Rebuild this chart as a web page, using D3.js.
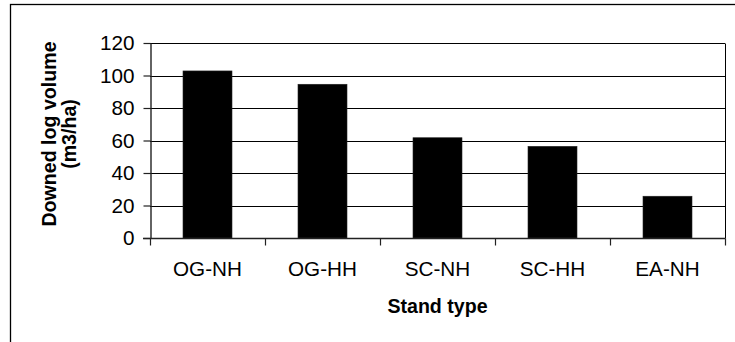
<!DOCTYPE html>
<html>
<head>
<meta charset="utf-8">
<script src="https://cdn.jsdelivr.net/npm/d3@7"></script>
<style>
  html, body { margin: 0; padding: 0; background: #fff; }
  svg { display: block; }
  text { font-family: "Liberation Sans", Arial, sans-serif; fill: #000; }
</style>
</head>
<body>
<svg id="chart" width="735" height="342"></svg>
<script>
// Downed log volume per stand type
const categories = ["OG-NH", "OG-HH", "SC-NH", "SC-HH", "EA-NH"];
const volumes = [102.8, 94.6, 61.7, 56.4, 25.7];
const yTicks = [0, 20, 40, 60, 80, 100, 120];
const yTitle = ["Downed log volume", "(m3/ha)"];
const xTitle = "Stand type";

const svg = d3.select("#chart");
const plot = { left: 150, right: 725, top: 43, bottom: 238 };
const tickFont = "20.7px";
const titleFont = "19.6px";

// Outer chart frame (runs past the right and bottom edges)
svg.append("rect")
  .attr("x", 10.5).attr("y", 4.5)
  .attr("width", 800).attr("height", 400)
  .attr("fill", "none").attr("stroke", "#000").attr("stroke-width", 1.3);

const x = d3.scaleBand()
  .domain(categories)
  .range([plot.left, plot.right])
  .paddingInner(0.574)
  .paddingOuter(0.287);

const y = d3.scaleLinear()
  .domain([0, 120])
  .range([plot.bottom, plot.top]);

// Slot boundaries used for the category tick marks
const slot = d3.scaleLinear()
  .domain([0, categories.length])
  .range([plot.left, plot.right]);

// Horizontal gridlines
svg.append("g")
  .selectAll("line")
  .data(yTicks.filter(t => t > 0))
  .join("line")
  .attr("x1", plot.left).attr("x2", plot.right)
  .attr("y1", d => Math.round(y(d)) + 0.5).attr("y2", d => Math.round(y(d)) + 0.5)
  .attr("stroke", "#000").attr("stroke-width", 1);

// Right border of plot area
svg.append("line")
  .attr("x1", plot.right + 0.5).attr("x2", plot.right + 0.5)
  .attr("y1", Math.round(y(120)) + 0.5).attr("y2", Math.round(y(0)) + 0.5)
  .attr("stroke", "#000").attr("stroke-width", 1);

// Bars
svg.append("g")
  .selectAll("rect")
  .data(categories.map((c, i) => ({ c, v: volumes[i] })))
  .join("rect")
  .attr("x", d => x(d.c))
  .attr("width", x.bandwidth())
  .attr("y", d => y(d.v))
  .attr("height", d => y(0) - y(d.v))
  .attr("fill", "#000")
  .attr("stroke", "#222").attr("stroke-width", 0.6);

// Y axis
const yAxis = svg.append("g")
  .attr("transform", `translate(${plot.left + 0.5},0)`)
  .call(d3.axisLeft(y).tickValues(yTicks).tickSize(7).tickPadding(9).tickSizeOuter(0));
yAxis.select(".domain").attr("stroke", "#222").attr("stroke-width", 1.4);
yAxis.selectAll(".tick line").attr("stroke", "#222").attr("stroke-width", 1.2);
yAxis.selectAll(".tick text")
  .style("font-family", "'Liberation Sans', Arial, sans-serif")
  .style("font-size", tickFont)
  .attr("fill", "#000");

// X axis line with ticks at slot boundaries
const xAxisY = Math.round(y(0)) + 0.5;
svg.append("line")
  .attr("x1", plot.left - 7).attr("x2", plot.right + 0.5)
  .attr("y1", xAxisY).attr("y2", xAxisY)
  .attr("stroke", "#222").attr("stroke-width", 1.4);
svg.append("g")
  .selectAll("line")
  .data(d3.range(categories.length + 1))
  .join("line")
  .attr("x1", d => Math.round(slot(d)) + 0.5).attr("x2", d => Math.round(slot(d)) + 0.5)
  .attr("y1", xAxisY).attr("y2", xAxisY + 7)
  .attr("stroke", "#222").attr("stroke-width", 1.2);

// Category labels
svg.append("g")
  .selectAll("text")
  .data(categories)
  .join("text")
  .attr("x", d => x(d) + x.bandwidth() / 2)
  .attr("y", 275.5)
  .attr("text-anchor", "middle")
  .style("font-size", tickFont)
  .text(d => d);

// Axis titles
svg.append("text")
  .attr("x", (plot.left + plot.right) / 2)
  .attr("y", 312.5)
  .attr("text-anchor", "middle")
  .style("font-size", titleFont)
  .style("font-weight", "bold")
  .text(xTitle);

const yt = svg.append("text")
  .attr("transform", "translate(0,134) rotate(-90)")
  .attr("text-anchor", "middle")
  .style("font-size", titleFont)
  .style("font-weight", "bold");
yt.selectAll("tspan")
  .data(yTitle)
  .join("tspan")
  .attr("x", 0)
  .attr("y", (d, i) => 56 + i * 19.5)
  .text(d => d);
</script>
</body>
</html>
